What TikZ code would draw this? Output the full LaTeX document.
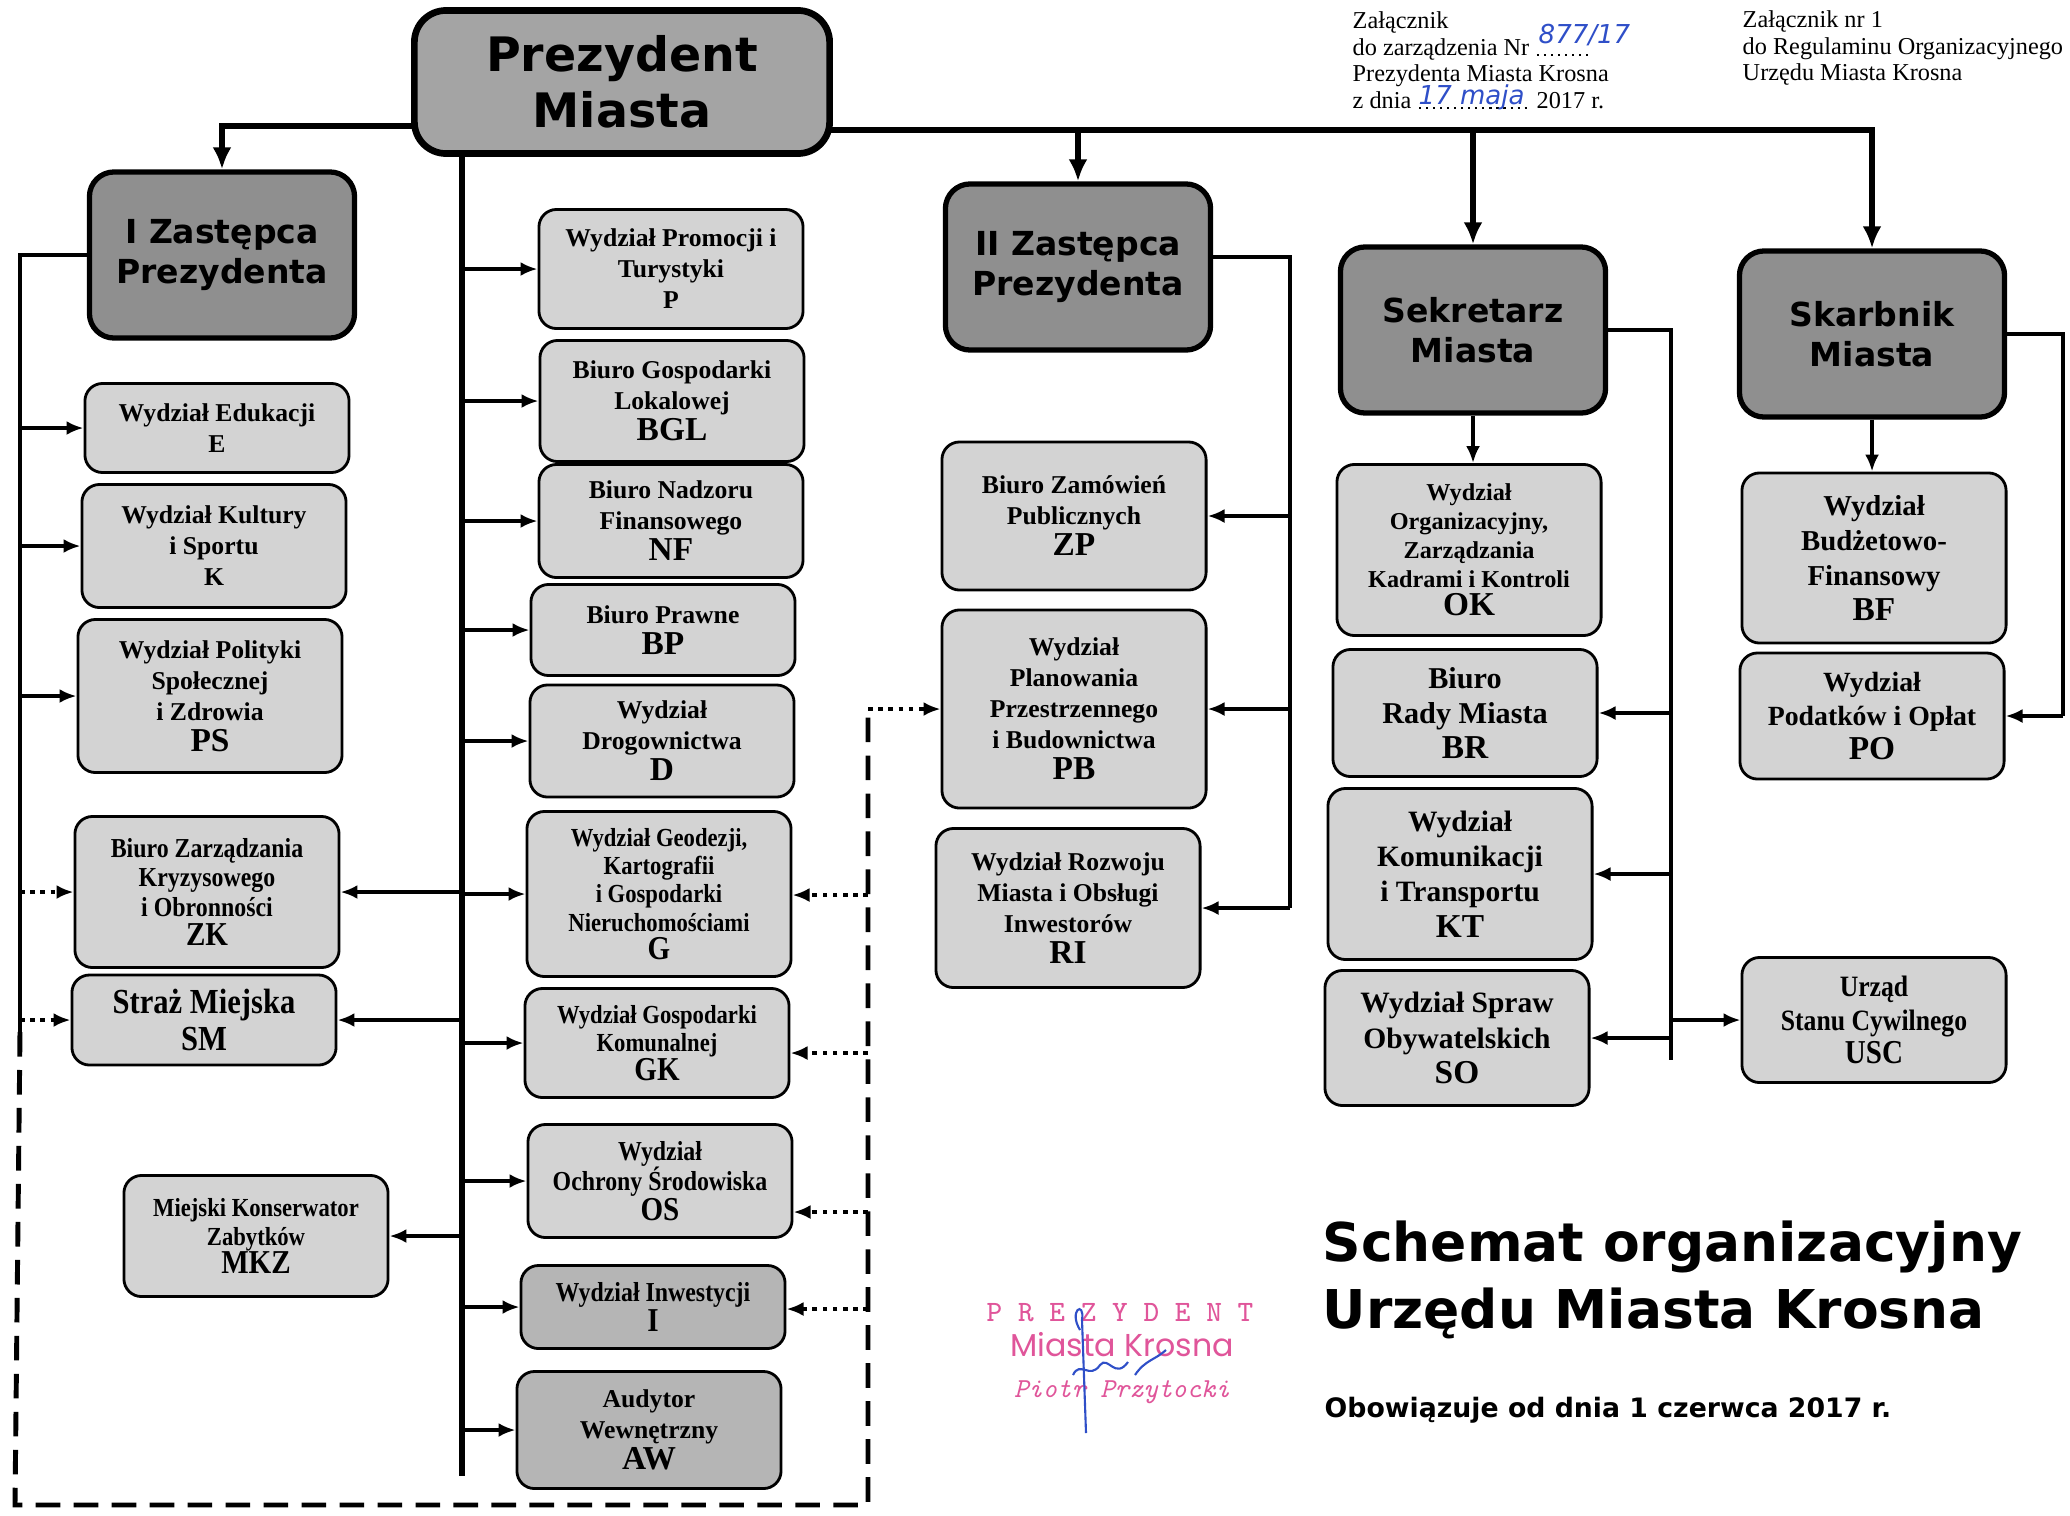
\documentclass[tikz,border=0pt]{standalone}
\usepackage{fontspec}
\setmainfont{Liberation Serif}
\newfontfamily\naglowek{DejaVu Sans}
\newfontfamily\waska{Liberation Serif}[FakeStretch=0.87]
\newfontfamily\okragla{Poppins}
\usepackage{xcolor}
\usepackage{tikz}
\usetikzlibrary{arrows.meta, positioning, calc}

\definecolor{jasny}{HTML}{D3D3D3}
\definecolor{sredni}{HTML}{B5B5B5}
\definecolor{ciemny}{HTML}{8F8F8F}
\definecolor{prezgray}{HTML}{A4A4A4}
\definecolor{pieczec}{HTML}{E0559A}
\definecolor{dlugopis}{HTML}{2F4FC8}

\newcommand{\skr}[1]{{\fontsize{9.5}{11}\selectfont #1}}
\newcommand{\maly}{\fontsize{7.3}{8.8}\selectfont}

\tikzset{
  szef/.style={draw, line width=1.5pt, rounded corners=7pt, fill=ciemny,
    align=center, minimum width=2.65cm, minimum height=1.66cm,
    font=\naglowek\bfseries\fontsize{9.4}{11.4}\selectfont},
  wydz/.style={draw, line width=0.8pt, rounded corners=5pt, fill=jasny,
    align=center, minimum width=2.64cm, inner sep=1pt, font=\bfseries\maly},
  wydzw/.style={wydz, font=\waska\bfseries\fontsize{7.4}{8}\selectfont},
  linia/.style={line width=1.1pt},
  strz/.style={line width=1.1pt, -{Latex[length=1.7mm, width=1.4mm]}},
  strzg/.style={line width=1.5pt, -{Latex[length=2.2mm, width=1.9mm]}},
  kropki/.style={line width=1.4pt, dash pattern=on 1.3pt off 1.6pt, -{Latex[length=1.7mm, width=1.4mm]}},
  kreski/.style={line width=1.4pt, dash pattern=on 7pt off 3.8pt},
  opis/.style={anchor=base west, inner sep=0pt, font=\fontsize{6.9}{7.6}\selectfont},
  reka/.style={anchor=base west, inner sep=0pt, text=dlugopis, font=\naglowek\itshape\fontsize{7.4}{8}\selectfont},
  kropkowanie/.style={line width=0.6pt, dash pattern=on 0.6pt off 1.4pt},
}

\begin{document}
\begin{tikzpicture}[x=0.01cm, y=-0.01cm]
    \fill[white] (0,0) rectangle (2070,1515);
    \useasboundingbox (0,0) rectangle (2070,1515);

    % --- KIEROWNICTWO ---
    \node[szef, fill=prezgray, line width=1.9pt, rounded corners=9pt, minimum width=4.15cm, minimum height=1.43cm,
      font=\naglowek\bfseries\fontsize{13.5}{16}\selectfont] (PM) at (622,82) {Prezydent\\Miasta};
    \node[szef] (IZ) at (222,255) {I Zastępca\\Prezydenta};
    \node[szef] (IIZ) at (1078,267) {II Zastępca\\Prezydenta};
    \node[szef] (SEK) at (1473,330) {Sekretarz\\Miasta};
    \node[szef] (SKA) at (1872,334) {Skarbnik\\Miasta};

    % --- PION I ZASTĘPCY ---
    \node[wydz, minimum height=0.89cm] (E) at (217,428) {Wydział Edukacji\\E};
    \node[wydz, minimum height=1.23cm] (K) at (214,546) {Wydział Kultury\\i Sportu\\K};
    \node[wydz, minimum height=1.53cm] (PS) at (210,696) {Wydział Polityki\\Społecznej\\i Zdrowia\\\skr{PS}};
    \node[wydzw, minimum height=1.51cm, font=\waska\bfseries\fontsize{7.8}{8.4}\selectfont] (ZK) at (207,892) {Biuro Zarządzania\\Kryzysowego\\i Obronności\\\skr{ZK}};
    \node[wydzw, minimum height=0.90cm, font=\waska\bfseries\fontsize{10}{10.5}\selectfont] (SM) at (204,1020) {Straż Miejska\\SM};
    \node[wydzw, minimum height=1.21cm] (MKZ) at (256,1236) {Miejski Konserwator\\Zabytków\\\skr{MKZ}};

    % --- KOMÓRKI PODLEGŁE PREZYDENTOWI ---
    \node[wydz, minimum height=1.19cm] (P) at (671,269) {Wydział Promocji i\\Turystyki\\P};
    \node[wydz, minimum height=1.21cm] (BGL) at (672,401) {Biuro Gospodarki\\Lokalowej\\\skr{BGL}};
    \node[wydz, minimum height=1.13cm] (NF) at (671,521) {Biuro Nadzoru\\Finansowego\\\skr{NF}};
    \node[wydz, minimum height=0.91cm] (BP) at (663,630) {Biuro Prawne\\\skr{BP}};
    \node[wydz, minimum height=1.12cm] (D) at (662,741) {Wydział\\Drogownictwa\\\skr{D}};
    \node[wydzw, minimum height=1.65cm] (G) at (659,894) {Wydział Geodezji,\\Kartografii\\i Gospodarki\\Nieruchomościami\\\skr{G}};
    \node[wydzw, minimum height=1.09cm] (GK) at (657,1043) {Wydział Gospodarki\\Komunalnej\\\skr{GK}};
    \node[wydzw, minimum height=1.13cm, font=\waska\bfseries\fontsize{7.8}{8.6}\selectfont] (OS) at (660,1181) {Wydział\\Ochrony Środowiska\\\skr{OS}};
    \node[wydzw, fill=sredni, minimum height=0.83cm, font=\waska\bfseries\fontsize{7.8}{8.6}\selectfont] (I) at (653,1307) {Wydział Inwestycji\\\skr{I}};
    \node[wydz, fill=sredni, minimum height=1.17cm] (AW) at (649,1430) {Audytor\\Wewnętrzny\\\skr{AW}};

    % --- PION II ZASTĘPCY ---
    \node[wydz, minimum height=1.48cm] (ZP) at (1074,516) {Biuro Zamówień\\Publicznych\\\skr{ZP}};
    \node[wydz, minimum height=1.98cm] (PB) at (1074,709) {Wydział\\Planowania\\Przestrzennego\\i Budownictwa\\\skr{PB}};
    \node[wydz, minimum height=1.59cm] (RI) at (1068,908) {Wydział Rozwoju\\Miasta i Obsługi\\Inwestorów\\\skr{RI}};

    % --- PION SEKRETARZA ---
    \node[wydz, minimum height=1.71cm, font=\bfseries\fontsize{6.9}{8.2}\selectfont] (OK) at (1469,550) {Wydział\\Organizacyjny,\\Zarządzania\\Kadrami i Kontroli\\\skr{OK}};
    \node[wydz, minimum height=1.27cm, font=\bfseries\fontsize{8.6}{10}\selectfont] (BR) at (1465,713) {Biuro\\Rady Miasta\\\skr{BR}};
    \node[wydz, minimum height=1.71cm, font=\bfseries\fontsize{8.4}{10}\selectfont] (KT) at (1460,874) {Wydział\\Komunikacji\\i Transportu\\\skr{KT}};
    \node[wydz, minimum height=1.35cm, font=\bfseries\fontsize{8.4}{10}\selectfont] (SO) at (1457,1038) {Wydział Spraw\\Obywatelskich\\\skr{SO}};
    \node[wydzw, minimum height=1.25cm, font=\waska\bfseries\fontsize{8.4}{9.6}\selectfont] (USC) at (1874,1020) {Urząd\\Stanu Cywilnego\\\skr{USC}};

    % --- PION SKARBNIKA ---
    \node[wydz, minimum height=1.70cm, font=\bfseries\fontsize{8.2}{10}\selectfont] (BF) at (1874,558) {Wydział\\Budżetowo-\\Finansowy\\\skr{BF}};
    \node[wydz, minimum height=1.26cm, font=\bfseries\fontsize{7.9}{9.6}\selectfont] (PO) at (1872,716) {Wydział\\Podatków i Opłat\\\skr{PO}};

    % --- POŁĄCZENIA OD PREZYDENTA ---
    \coordinate (szynaL) at (415,126);
    \coordinate (szynaP) at (830,130);
    \coordinate (pion) at (462,1476);
    \draw[strzg] (szynaL) -| (IZ.north);
    \draw[strzg] (szynaP) -| (SKA.north);
    \draw[strzg] (szynaP -| IIZ.north) -- (IIZ.north);
    \draw[strzg] (szynaP -| SEK.north) -- (SEK.north);
    \draw[line width=1.8pt] (PM.south -| pion) -- (pion);
    \foreach \n in {P,BGL,NF,BP,D,G,GK,OS,I,AW}
        \draw[strz] (\n.west -| pion) -- (\n.west);
    \foreach \n in {ZK,SM,MKZ}
        \draw[strz] (\n.east -| pion) -- (\n.east);

    % --- POŁĄCZENIA I ZASTĘPCY ---
    \coordinate (lewa) at (20,1032);
    \draw[linia] (IZ.west) -| (lewa);
    \foreach \n in {E,K,PS}
        \draw[strz] (\n.west -| lewa) -- (\n.west);
    \foreach \n in {ZK,SM}
        \draw[kropki] (\n.west -| lewa) -- (\n.west);

    % --- POŁĄCZENIA II ZASTĘPCY ---
    \coordinate (prawaII) at (1290,908);
    \draw[linia] ([yshift=0.1cm]IIZ.east) -| (prawaII);
    \foreach \n in {ZP,PB,RI}
        \draw[strz] (\n.east -| prawaII) -- (\n.east);

    % --- POŁĄCZENIA SEKRETARZA I SKARBNIKA ---
    \coordinate (prawaS) at (1671,1060);
    \draw[linia] (SEK.east) -| (prawaS);
    \draw[strz] (SEK.south) -- (SEK.south |- OK.north);
    \foreach \n in {BR,KT,SO}
        \draw[strz] (\n.east -| prawaS) -- (\n.east);
    \draw[strz] (USC.west -| prawaS) -- (USC.west);
    \coordinate (prawaK) at (2063,716);
    \draw[linia] (SKA.east) -| (prawaK);
    \draw[strz] (SKA.south) -- (SKA.south |- BF.north);
    \draw[strz] (prawaK) -- (PO.east);

    % --- NADZÓR (linia kreskowa) ---
    \coordinate (rogL) at (15,1505);
    \coordinate (rogP) at (868,1505);
    \draw[kreski] (lewa) -- (rogL) -- (rogP) -- (rogP |- PB.west);
    \draw[kropki] (rogP |- PB.west) -- (PB.west);
    \foreach \n/\y in {G/895, GK/1053, OS/1212, I/1309}
        \draw[kropki] (rogP |- 0,\y) -- (\n.east |- 0,\y);

    % --- OPISY ---
    \node[opis] (zalA) at (1352,28) {Załącznik};
    \node[opis] (zalB) at (1352,55) {do zarządzenia Nr};
    \node[opis] (zalC) at (1352,81) {Prezydenta Miasta Krosna};
    \node[opis] (zalD) at (1352,108) {z dnia};
    \node[opis] (zalE) at (1536,108) {2017 r.};
    \coordinate (nrkoniec) at (1590,55);
    \draw[kropkowanie] ([xshift=2pt]zalB.base east) -- (nrkoniec);
    \draw[kropkowanie] ([xshift=2pt]zalD.base east) -- ([xshift=-2pt]zalE.base west);
    \node[reka] (nrzarz) at (1538,44) {877/17};
    \node[reka] (dzien) at (1418,104) {17 maja};
    \node[anchor=north west, align=left, inner sep=0pt, font=\fontsize{6.9}{7.6}\selectfont] (zal2) at (1742,10)
      {Załącznik nr 1\\do Regulaminu Organizacyjnego\\Urzędu Miasta Krosna};
    \node[anchor=west, align=left, inner sep=0pt, font=\naglowek\bfseries\fontsize{15.2}{19}\selectfont] (tytul) at (1322,1280)
      {Schemat organizacyjny\\Urzędu Miasta Krosna};
    \node[anchor=west, inner sep=0pt, font=\naglowek\bfseries\fontsize{7.6}{9}\selectfont] (obow) at (1324,1410)
      {Obowiązuje od dnia 1 czerwca 2017 r.};

    % --- PIECZĘĆ I PODPIS ---
    \node[text=pieczec, font=\ttfamily\fontsize{8.4}{9}\selectfont] (piecz1) at (1120,1313) {P R E Z Y D E N T};
    \node[text=pieczec, font=\okragla\fontsize{9}{10}\selectfont] (piecz2) at (1122,1345) {Miasta Krosna};
    \node[text=pieczec, font=\ttfamily\itshape\fontsize{7.8}{9}\selectfont] (piecz3) at (1122,1392) {Piotr Przytocki};
    \draw[dlugopis, line width=0.6pt] (1080,1330) .. controls (1068,1310) and (1085,1300) .. (1082,1320) -- (1086,1433);
    \draw[dlugopis, line width=0.6pt] (1073,1375) .. controls (1080,1360) and (1090,1380) .. (1100,1365)
      .. controls (1108,1355) and (1115,1380) .. (1128,1362);
    \draw[dlugopis, line width=0.6pt] (1135,1375) .. controls (1145,1360) and (1155,1360) .. (1166,1350);
\end{tikzpicture}
\end{document}
